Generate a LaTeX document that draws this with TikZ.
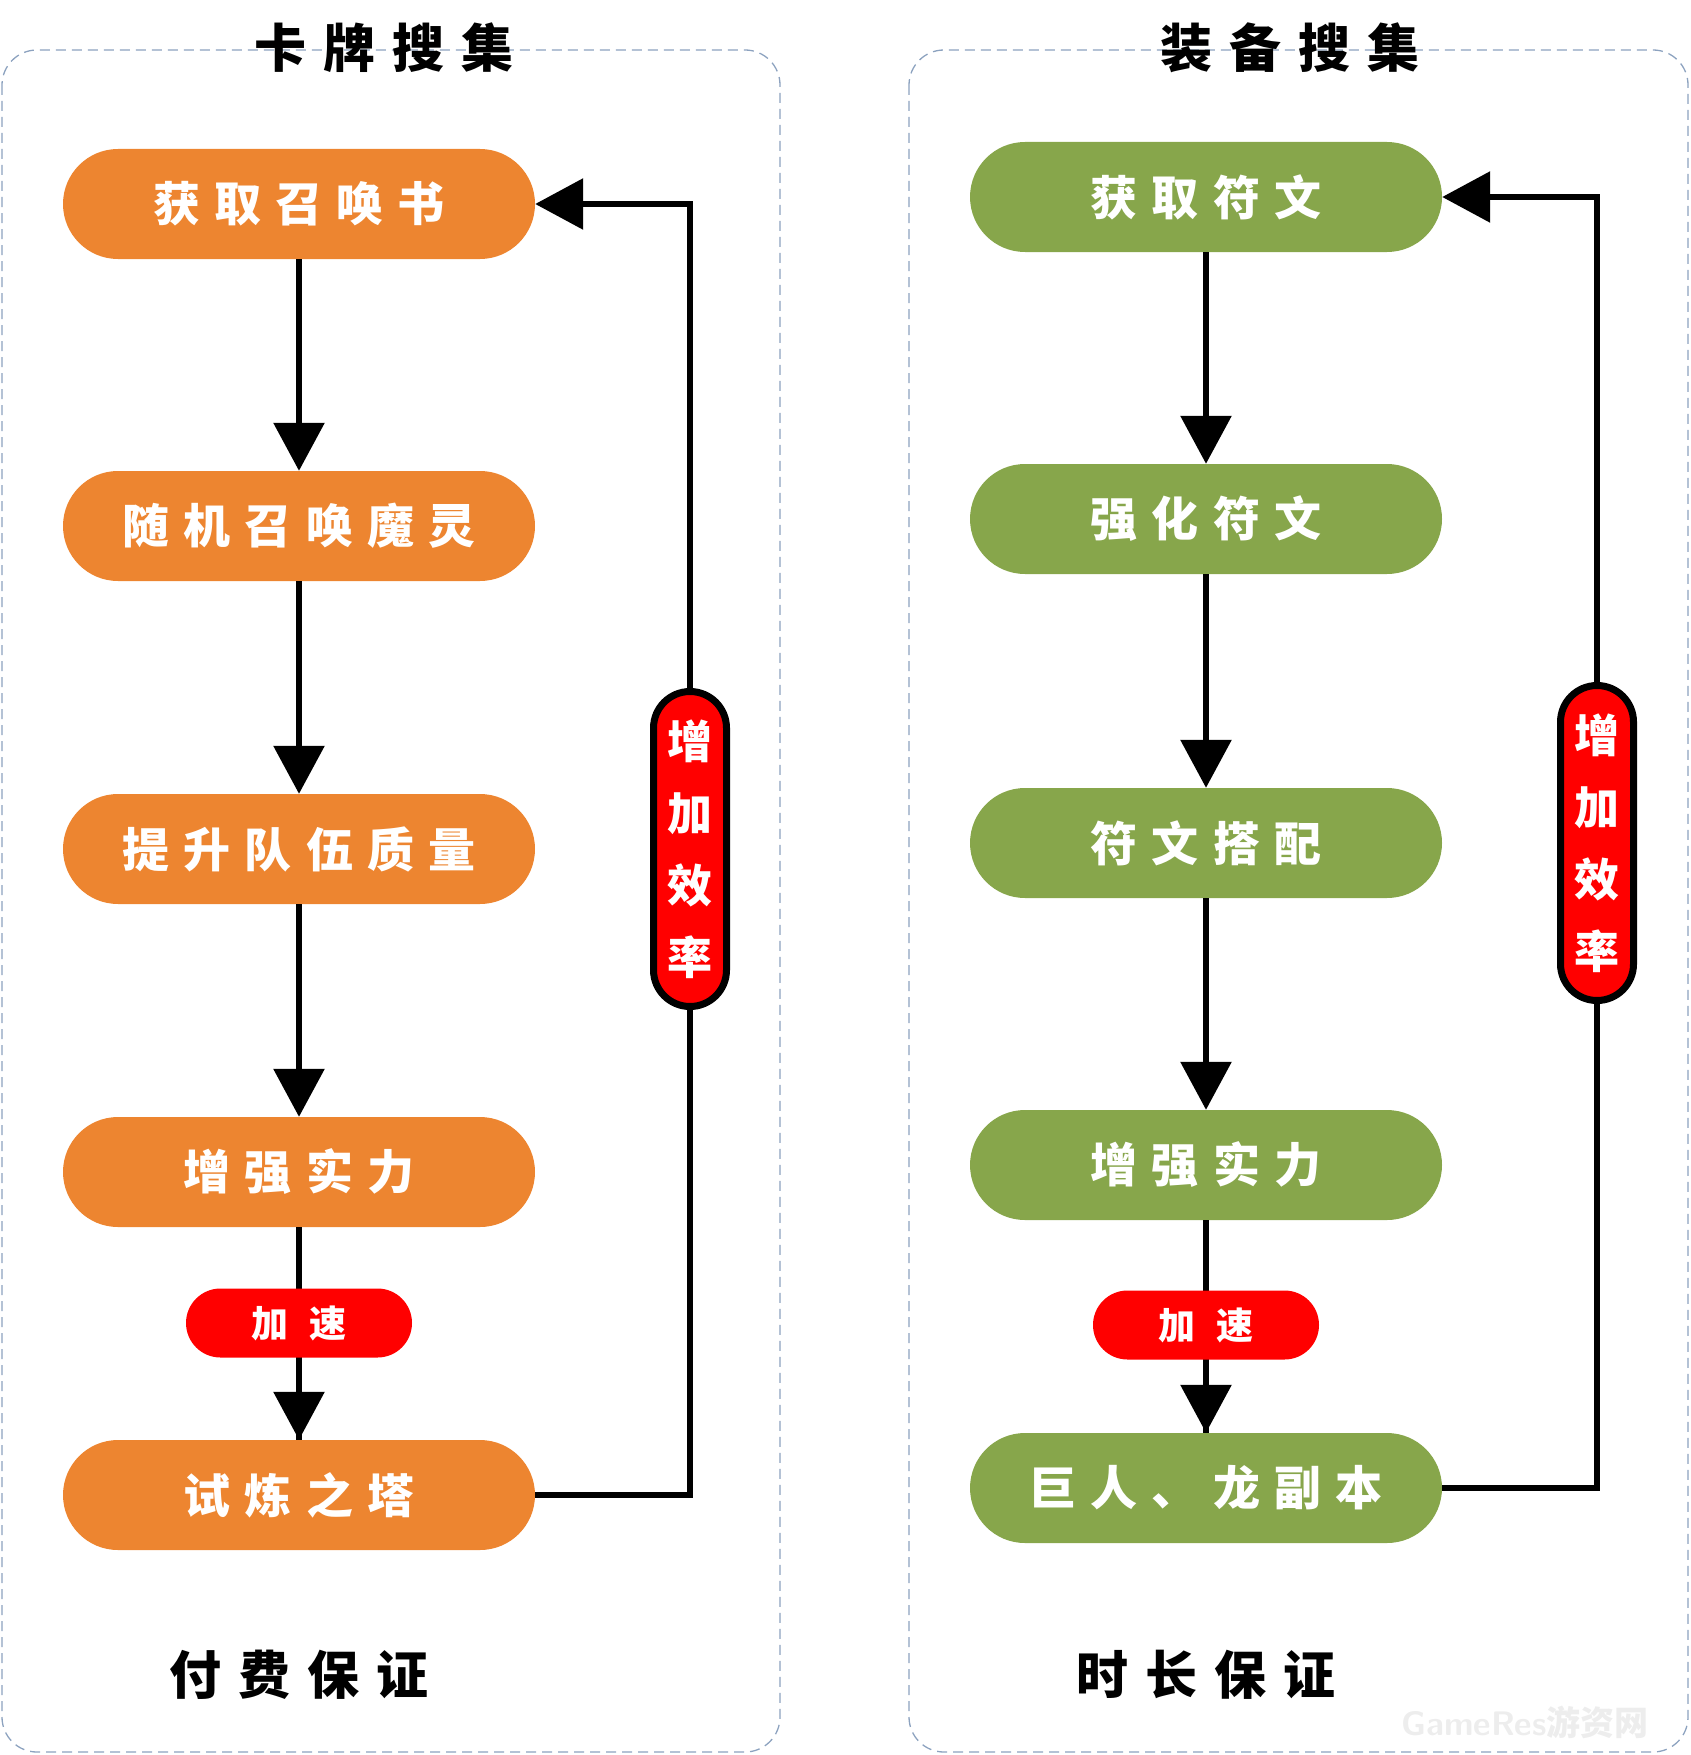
\documentclass[tikz,border=0pt]{standalone}
\usepackage{fontspec}
\newfontfamily\cjk{Noto Sans CJK SC}
\usetikzlibrary{arrows.meta,positioning}
\definecolor{boxorange}{HTML}{ED8530}
\definecolor{boxgreen}{HTML}{87A64B}
\definecolor{framegray}{HTML}{8CA2BF}
\tikzset{
  frame/.style={draw=framegray, line width=1.3pt, dash pattern=on 10pt off 6pt, rounded corners=35pt},
  flowbox/.style={rectangle, rounded corners=55pt, minimum width=472pt, minimum height=110pt,
                  inner sep=0pt, text=white,
                  font=\cjk\addfontfeature{LetterSpace=30}\bfseries\fontsize{47}{47}\selectfont},
  speedup/.style={rectangle, rounded corners=34.5pt, minimum width=226pt, minimum height=69pt,
                  inner sep=0pt, fill=red, text=white,
                  font=\cjk\addfontfeature{LetterSpace=55}\bfseries\fontsize{37}{37}\selectfont},
  boost/.style={rectangle, rounded corners=36.5pt, minimum width=73pt, minimum height=315pt,
                inner sep=0pt, draw=black, line width=7pt, fill=red, text=white, align=center,
                font=\cjk\bfseries\fontsize{45}{72}\selectfont},
  heading/.style={font=\cjk\addfontfeature{LetterSpace=33}\bfseries\fontsize{52}{52}\selectfont},
  link/.style={line width=6pt, -{Triangle[length=48pt,width=50pt]}}
}
\begin{document}
\begin{tikzpicture}[x=1pt,y=-1pt]
\useasboundingbox (0,0) rectangle (1690,1755);

\draw[frame] (2,50) rectangle (780,1752);
\draw[frame] (909,50) rectangle (1688,1752);

\node[heading] (t1) at (384,48) {卡牌搜集};
\node[heading] (t2) at (1290,48) {装备搜集};

% card side
\node[flowbox,fill=boxorange] (o1) at (299,204) {获取召唤书};
\node[flowbox,fill=boxorange] (o2) at (299,526) {随机召唤魔灵};
\node[flowbox,fill=boxorange] (o3) at (299,849) {提升队伍质量};
\node[flowbox,fill=boxorange] (o4) at (299,1172) {增强实力};
\node[flowbox,fill=boxorange] (o5) at (299,1495) {试炼之塔};

% gear side
\node[flowbox,fill=boxgreen] (g1) at (1206,197) {获取符文};
\node[flowbox,fill=boxgreen] (g2) at (1206,519) {强化符文};
\node[flowbox,fill=boxgreen] (g3) at (1206,843) {符文搭配};
\node[flowbox,fill=boxgreen] (g4) at (1206,1165) {增强实力};
\node[flowbox,fill=boxgreen] (g5) at (1206,1488) {巨人、龙副本};

\foreach \a/\b in {o1/o2,o2/o3,o3/o4,g1/g2,g2/g3,g3/g4}
  \draw[link] (\a) -- (\b);

\draw[line width=6pt] (o4) -- (o5);
\draw[line width=6pt] (g4) -- (g5);
\node[speedup] (s1) at (299,1323) {加速};
\node[speedup] (s2) at (1206,1325) {加速};
\draw[link] (s1) -- (o5);
\draw[link] (s2) -- (g5);

% feedback loops
\node[boost] (e1) at (690,849) {增\\加\\效\\率};
\node[boost] (e2) at (1597,843) {增\\加\\效\\率};
\draw[line width=6pt] (o5) -| (e1);
\draw[link] (e1) |- (o1);
\draw[line width=6pt] (g5) -| (e2);
\draw[link] (e2) |- (g1);

\node[heading] (b1) at (299,1675) {付费保证};
\node[heading] (b2) at (1206,1675) {时长保证};

\node[text=black!7, font=\sffamily\bfseries\fontsize{34}{34}\selectfont] (wm) at (1525,1722) {GameRes{\cjk 游资网}};
\end{tikzpicture}
\end{document}
